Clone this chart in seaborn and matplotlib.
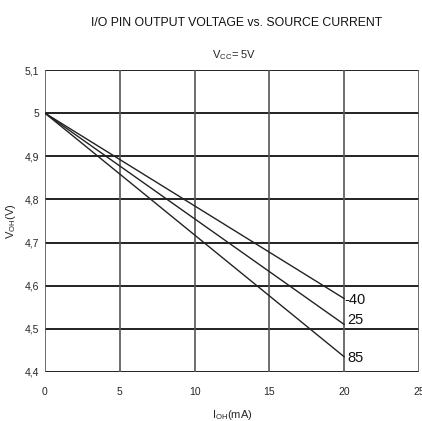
import matplotlib
matplotlib.use("Agg")
import matplotlib.pyplot as plt
import seaborn as sns
import pandas as pd

# Data
temps = ["-40", "25", "85"]
current_ma = [0, 20]
voh_m40 = [5.0, 4.57]
voh_25 = [5.0, 4.51]
voh_85 = [5.0, 4.435]

x_ticks = [0, 5, 10, 15, 20, 25]
y_ticks = [4.4, 4.5, 4.6, 4.7, 4.8, 4.9, 5.0, 5.1]

rows = []
for t, v in zip(temps, [voh_m40, voh_25, voh_85]):
    for i, val in zip(current_ma, v):
        rows.append({"temp": t, "ioh": i, "voh": val})
df = pd.DataFrame(rows)

sns.set_style("white")
plt.rcParams["font.family"] = ["Liberation Sans", "DejaVu Sans"]

fig = plt.figure(figsize=(4.22, 4.21), dpi=100)
ax = fig.add_axes([0.1066, 0.1164, 0.8867, 0.7173])

sns.lineplot(data=df, x="ioh", y="voh", hue="temp", palette=["#222222"] * 3,
             linewidth=1.0, legend=False, ax=ax)

ax.set_xlim(0, 25)
ax.set_ylim(4.4, 5.1)
ax.set_xticks(x_ticks)
ax.set_yticks(y_ticks)
ax.set_yticklabels([("%g" % y).replace(".", ",") for y in y_ticks])
ax.tick_params(labelsize=7.5, length=0)
ax.tick_params(axis="x", pad=11)
ax.tick_params(axis="y", pad=4)

# grid: dark horizontals, grey verticals
for y in y_ticks:
    ax.axhline(y, color="#111111", lw=1.3, zorder=0)
for x in x_ticks:
    ax.axvline(x, color="#555555", lw=1.2, zorder=0)
for s in ax.spines.values():
    s.set_visible(False)

# curve labels (small nudges so they sit like the original)
nudge = {"-40": (0.0, -0.003), "25": (0.2, 0.01), "85": (0.2, -0.003)}
for t, v in zip(temps, [voh_m40, voh_25, voh_85]):
    dx, dy = nudge[t]
    ax.text(current_ma[-1] + dx, v[-1] + dy, t, fontsize=10.5, va="center", ha="left",
            color="#111111")

ax.set_xlabel("I$_{\\mathregular{OH}}$(mA)", fontsize=8, labelpad=8)
ax.set_ylabel("V$_{\\mathregular{OH}}$(V)", fontsize=8, labelpad=5)

fig.text(0.56, 0.945, "I/O PIN OUTPUT VOLTAGE vs. SOURCE CURRENT", fontsize=8.8,
         ha="center", va="center", color="#111111")
fig.text(0.555, 0.868, "V$_{\\mathregular{CC}}$= 5V", fontsize=8, ha="center", va="center")

fig.savefig("out.png", dpi=100)
